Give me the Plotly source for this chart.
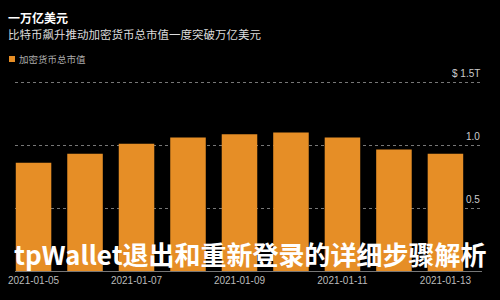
import plotly.graph_objects as go

dates = ["2021-01-05", "2021-01-06", "2021-01-07", "2021-01-08", "2021-01-09",
         "2021-01-10", "2021-01-11", "2021-01-12", "2021-01-13"]
values = [0.86, 0.93, 1.01, 1.06, 1.085, 1.10, 1.06, 0.965, 0.93]
y_ticks = [0.5, 1.0, 1.5]
y_tick_labels = ["0.5", "1.0", "$ 1.5T"]
x_ticks = dates[::2]
x_tick_labels = dates[::2]

title = "一万亿美元"
subtitle = "比特币飙升推动加密货币总市值一度突破万亿美元"
series_name = "加密货币总市值"
watermark = "tpWallet退出和重新登录的详细步骤解析"

W, H = 500, 300
L, R, T, B = 15, 18, 76, 29
ORANGE = "#e68e26"
FONT = "Noto Sans CJK SC"

fig = go.Figure()
fig.add_trace(go.Bar(
    x=dates, y=values, name=series_name,
    marker=dict(color=ORANGE, line=dict(width=0)),
    showlegend=False,
))

fig.update_layout(
    width=W, height=H,
    margin=dict(l=L, r=R, t=T, b=B, pad=0, autoexpand=False),
    paper_bgcolor="#000000", plot_bgcolor="#000000",
    font=dict(family=FONT, color="#cccccc"),
    xaxis=dict(
        type="category",
        range=[-0.36, 8.71],
        tickvals=x_ticks, ticktext=x_tick_labels,
        tickfont=dict(size=10, color="#bbbbbb", family="Liberation Sans"),
        showgrid=False, zeroline=False,
        showline=True, linecolor="#777777", linewidth=1,
        ticks="", ticklen=0,
    ),
    yaxis=dict(
        range=[0, 1.5476],
        tickvals=y_ticks, showticklabels=False,
        showgrid=True, gridcolor="#777777", griddash="dot", gridwidth=1,
        zeroline=False, showline=False, ticks="",
    ),
    bargap=0.31,
)


def px_to_paper_x(px):
    return (px - L) / (W - L - R)


def px_to_paper_y(py):
    return (H - B - py) / (H - T - B)


for v, t in zip(y_ticks, y_tick_labels):
    fig.add_annotation(
        x=1, xref="paper", y=v, yref="y", text=t, showarrow=False,
        xanchor="right", yanchor="bottom", yshift=1,
        font=dict(size=10, color="#cccccc", family="Liberation Sans"),
    )

fig.add_annotation(
    x=px_to_paper_x(6), xref="paper", y=px_to_paper_y(18), yref="paper",
    xanchor="left", yanchor="middle", text=f"<b>{title}</b>", showarrow=False,
    font=dict(size=12, color="#ffffff", family=FONT),
)
fig.add_annotation(
    x=px_to_paper_x(6), xref="paper", y=px_to_paper_y(34), yref="paper",
    xanchor="left", yanchor="middle", text=subtitle, showarrow=False,
    font=dict(size=11.5, color="#dddddd", family=FONT),
)
fig.add_annotation(
    x=px_to_paper_x(17), xref="paper", y=px_to_paper_y(59), yref="paper",
    xanchor="left", yanchor="middle", text=series_name, showarrow=False,
    font=dict(size=9.5, color="#aaaaaa", family=FONT),
)
fig.add_shape(
    type="rect", xref="paper", yref="paper",
    x0=px_to_paper_x(9), x1=px_to_paper_x(15),
    y0=px_to_paper_y(62), y1=px_to_paper_y(56),
    fillcolor=ORANGE, line=dict(width=0),
)
fig.add_annotation(
    x=px_to_paper_x(250), xref="paper", y=px_to_paper_y(253), yref="paper",
    xanchor="center", yanchor="middle", text=f"<b>{watermark}</b>", showarrow=False,
    font=dict(size=26, color="#ffffff", family=FONT),
)

fig.write_html("out.html")
